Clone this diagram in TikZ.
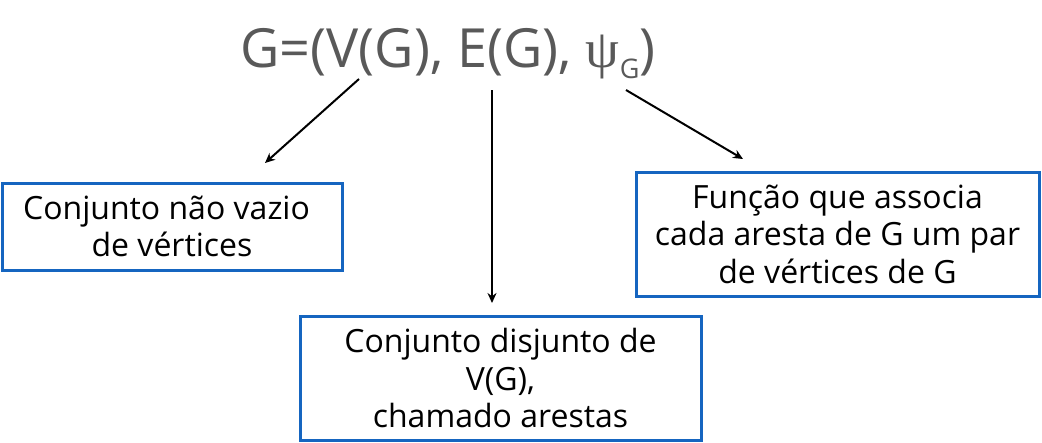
\documentclass[tikz,border=0pt]{standalone}
\usepackage{fontspec}
\setmainfont{Open Sans}
\newfontfamily\psifont{Liberation Serif}
\usetikzlibrary{arrows.meta}
\definecolor{boxblue}{HTML}{1565C0}
\definecolor{titlegray}{HTML}{595959}
\tikzset{
  infobox/.style={draw=boxblue, line width=3pt, fill=white, inner sep=0pt, align=center, font=\fontsize{32}{37.5}\selectfont},
  conn/.style={line width=2pt, -{Stealth[length=10pt,width=9pt]}}
}
\begin{document}
\begin{tikzpicture}[x=1pt,y=-1pt]
\useasboundingbox (0,0) rectangle (1042,442);
\node[text=titlegray, font=\fontsize{54}{60}\selectfont, anchor=base] (title) at (448,67)
  {G=(V(G), E(G), {\psifont ψ}\raisebox{-0.22em}{\fontsize{27}{27}\selectfont G})};
\node[infobox, minimum width=340pt, minimum height=87pt] (left) at (172,226.5)
  {Conjunto não vazio\hspace*{11pt}\\de vértices};
\node[infobox, minimum width=401pt, minimum height=124pt] (mid) at (500.5,378)
  {Conjunto disjunto de\\V(G),\\chamado arestas};
\node[infobox, minimum width=403pt, minimum height=124pt] (right) at (837.5,234)
  {Função que associa\\cada aresta de G um par\hspace*{10pt}\\de vértices de G};
\coordinate (a1s) at (359,79);
\coordinate (a1e) at (265,163);
\coordinate (a2s) at (492,90);
\coordinate (a2e) at (492,303);
\coordinate (a3s) at (626,90);
\coordinate (a3e) at (743,159);
\draw[conn] (a1s) -- (a1e);
\draw[conn] (a2s) -- (a2e);
\draw[conn] (a3s) -- (a3e);
\end{tikzpicture}
\end{document}
